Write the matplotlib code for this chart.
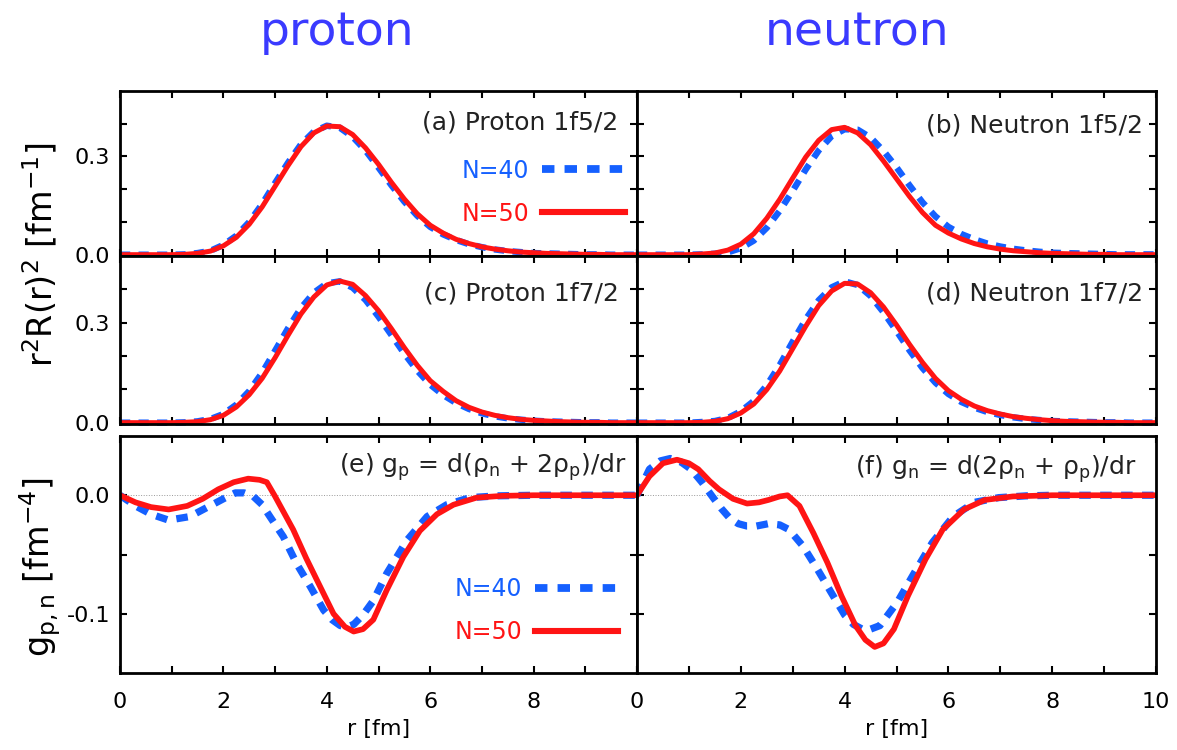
import matplotlib
matplotlib.use('Agg')
import matplotlib.pyplot as plt
from matplotlib.lines import Line2D

plt.rcParams['font.family'] = ['DejaVu Sans']
plt.rcParams['mathtext.fontset'] = 'dejavusans'

# ---------------- data ----------------
R_GRID = [0.0, 0.25, 0.5, 0.75, 1.0, 1.25, 1.5, 1.75, 2.0, 2.25, 2.5, 2.75, 3.0, 3.25,
          3.5, 3.75, 4.0, 4.25, 4.5, 4.75, 5.0, 5.25, 5.5, 5.75, 6.0, 6.25, 6.5, 6.75,
          7.0, 7.25, 7.5, 7.75, 8.0, 8.25, 8.5, 8.75, 9.0, 9.25, 9.5, 9.75, 10.0]

# (a) proton 1f5/2
D_A50 = [0, 0, 0, 0, 0.000, 0.001, 0.004, 0.011, 0.027, 0.053, 0.093, 0.146, 0.209, 0.272,
         0.330, 0.372, 0.393, 0.391, 0.367, 0.326, 0.276, 0.221, 0.170, 0.125, 0.090, 0.066,
         0.047, 0.034, 0.024, 0.017, 0.012, 0.008, 0.006, 0.004, 0.003, 0.002, 0.001, 0.001, 0, 0, 0]
D_A40 = [0, 0, 0, 0, 0.000, 0.001, 0.005, 0.012, 0.030, 0.058, 0.100, 0.155, 0.219, 0.281,
         0.337, 0.376, 0.394, 0.388, 0.360, 0.318, 0.266, 0.212, 0.162, 0.119, 0.085, 0.062,
         0.045, 0.032, 0.023, 0.016, 0.011, 0.008, 0.005, 0.004, 0.003, 0.002, 0.001, 0.001, 0, 0, 0]
# (b) neutron 1f5/2
D_B50 = [0, 0, 0, 0, 0.000, 0.002, 0.005, 0.014, 0.032, 0.064, 0.111, 0.169, 0.234, 0.298,
         0.349, 0.382, 0.389, 0.372, 0.336, 0.286, 0.232, 0.178, 0.129, 0.090, 0.066, 0.048,
         0.034, 0.024, 0.017, 0.012, 0.009, 0.006, 0.004, 0.003, 0.002, 0.001, 0.001, 0, 0, 0, 0]
D_B40 = [0, 0, 0, 0, 0.000, 0.001, 0.003, 0.007, 0.020, 0.043, 0.082, 0.134, 0.195, 0.260,
         0.318, 0.362, 0.383, 0.382, 0.358, 0.317, 0.267, 0.212, 0.160, 0.117, 0.085, 0.063,
         0.047, 0.034, 0.025, 0.018, 0.013, 0.009, 0.006, 0.005, 0.004, 0.003, 0.002, 0.001,
         0.001, 0.001, 0.001]
# (c) proton 1f7/2
D_C50 = [0, 0, 0, 0, 0.000, 0.001, 0.003, 0.009, 0.022, 0.047, 0.084, 0.133, 0.195, 0.262,
         0.326, 0.377, 0.413, 0.425, 0.415, 0.381, 0.336, 0.282, 0.225, 0.172, 0.126, 0.094,
         0.066, 0.046, 0.032, 0.022, 0.015, 0.010, 0.007, 0.005, 0.003, 0.002, 0.001, 0.001, 0, 0, 0]
D_C40 = [0, 0, 0, 0, 0.000, 0.001, 0.004, 0.011, 0.026, 0.054, 0.095, 0.150, 0.216, 0.283,
         0.344, 0.390, 0.418, 0.424, 0.405, 0.368, 0.318, 0.263, 0.207, 0.156, 0.114, 0.083,
         0.059, 0.041, 0.028, 0.019, 0.013, 0.009, 0.006, 0.004, 0.003, 0.002, 0.001, 0.001, 0, 0, 0]
# (d) neutron 1f7/2
D_D50 = [0, 0, 0, 0, 0.000, 0.001, 0.004, 0.012, 0.029, 0.056, 0.099, 0.155, 0.222, 0.289,
         0.351, 0.395, 0.418, 0.416, 0.390, 0.347, 0.293, 0.235, 0.181, 0.133, 0.096, 0.070,
         0.050, 0.036, 0.026, 0.018, 0.013, 0.009, 0.006, 0.004, 0.003, 0.002, 0.001, 0.001, 0, 0, 0]
D_D40 = [0, 0, 0, 0, 0.000, 0.002, 0.005, 0.014, 0.034, 0.065, 0.112, 0.173, 0.243, 0.310,
         0.367, 0.406, 0.424, 0.413, 0.380, 0.331, 0.275, 0.217, 0.164, 0.120, 0.086, 0.062,
         0.045, 0.032, 0.023, 0.016, 0.011, 0.008, 0.005, 0.004, 0.003, 0.002, 0.001, 0.001, 0, 0, 0]

# (e) g_p
R_E50 = [0, 0.3, 0.6, 0.94, 1.3, 1.6, 1.9, 2.2, 2.48, 2.7, 2.84, 3.0, 3.1, 3.35, 3.6, 3.87,
         4.13, 4.35, 4.52, 4.7, 4.9, 5.16, 5.48, 5.8, 6.13, 6.45, 6.9, 7.4, 8.0, 9.0, 10.0]
G_E50 = [0, -0.006, -0.010, -0.012, -0.009, -0.003, 0.005, 0.011, 0.014, 0.013, 0.011, -0.001,
         -0.009, -0.029, -0.053, -0.077, -0.100, -0.111, -0.115, -0.113, -0.105, -0.080, -0.052,
         -0.030, -0.016, -0.008, -0.002, -0.0005, 0, 0, 0]
R_E40 = [0, 0.3, 0.6, 0.94, 1.35, 1.74, 2.0, 2.23, 2.4, 2.58, 2.75, 2.9, 3.16, 3.42, 3.68, 3.94,
         4.1, 4.26, 4.4, 4.52, 4.7, 4.9, 5.16, 5.55, 5.94, 6.32, 6.77, 7.3, 8.0, 9.0, 10.0]
G_E40 = [0, -0.009, -0.016, -0.021, -0.018, -0.009, -0.003, 0.002, 0.002, -0.001, -0.008, -0.018,
         -0.035, -0.058, -0.077, -0.097, -0.105, -0.110, -0.111, -0.109, -0.101, -0.089, -0.066,
         -0.038, -0.018, -0.008, -0.002, -0.0005, 0, 0, 0]
# (f) g_n
R_F50 = [0, 0.24, 0.5, 0.77, 1.0, 1.18, 1.4, 1.58, 1.85, 2.12, 2.35, 2.53, 2.75, 2.9, 3.13, 3.4,
         3.67, 3.94, 4.21, 4.4, 4.58, 4.75, 4.95, 5.22, 5.56, 5.89, 6.3, 6.7, 7.24, 8.0, 9.0, 10.0]
G_F50 = [0, 0.016, 0.027, 0.030, 0.027, 0.022, 0.012, 0.005, -0.003, -0.007, -0.006, -0.004,
         -0.001, 0.000, -0.009, -0.032, -0.057, -0.085, -0.110, -0.122, -0.128, -0.125, -0.113,
         -0.085, -0.054, -0.029, -0.012, -0.004, -0.001, 0, 0, 0]
R_F40 = [0, 0.24, 0.45, 0.64, 0.85, 1.04, 1.25, 1.45, 1.62, 1.78, 1.95, 2.12, 2.3, 2.53, 2.75,
         2.93, 3.2, 3.47, 3.74, 4.0, 4.17, 4.34, 4.5, 4.68, 5.02, 5.35, 5.69, 6.09, 6.5, 6.97,
         7.5, 8.0, 9.0, 10.0]
G_F40 = [0, 0.022, 0.029, 0.031, 0.028, 0.022, 0.011, -0.001, -0.011, -0.019, -0.024, -0.026,
         -0.026, -0.024, -0.025, -0.029, -0.043, -0.062, -0.082, -0.101, -0.109, -0.113, -0.113,
         -0.110, -0.090, -0.065, -0.040, -0.018, -0.006, -0.002, -0.0005, 0, 0, 0]

SERIES_LABELS = ['N=40', 'N=50']
PANEL_TEXT = ['(a) Proton 1f5/2', '(b) Neutron 1f5/2', '(c) Proton 1f7/2', '(d) Neutron 1f7/2',
              '(e) g$_{\\rm p}$ = d(ρ$_{\\rm n}$ + 2ρ$_{\\rm p}$)/dr',
              '(f) g$_{\\rm n}$ = d(2ρ$_{\\rm n}$ + ρ$_{\\rm p}$)/dr']
COL_TITLES = ['proton', 'neutron']

BLUE = '#1560ff'
RED = '#ff1414'
TITLE_BLUE = '#3a3aff'

# ---------------- figure ----------------
W, H = 1177, 750
fig = plt.figure(figsize=(W / 100, H / 100), dpi=100)


def box(l, t, r, b):
    return [l / W, 1 - b / H, (r - l) / W, (b - t) / H]


ax_a = fig.add_axes(box(120, 91, 637, 256))
ax_b = fig.add_axes(box(637, 91, 1156, 256))
ax_c = fig.add_axes(box(120, 256, 637, 424))
ax_d = fig.add_axes(box(637, 256, 1156, 424))
ax_e = fig.add_axes(box(120, 436, 637, 673))
ax_f = fig.add_axes(box(637, 436, 1156, 673))
axes = [ax_a, ax_b, ax_c, ax_d, ax_e, ax_f]

LW_RED = 3.6
LW_BLUE = 4.6
DASH = (1.6, 1.3)


def style(ax):
    ax.set_xlim(0, 10)
    ax.set_xticks(range(0, 11))
    ax.tick_params(direction='in', top=True, right=True, length=5, width=1.5,
                   labelsize=16, pad=7)
    ax.tick_params(axis='x', pad=14)
    for s in ax.spines.values():
        s.set_linewidth(2.0)
        s.set_zorder(5)


density = [(ax_a, D_A40, D_A50), (ax_b, D_B40, D_B50),
           (ax_c, D_C40, D_C50), (ax_d, D_D40, D_D50)]
for ax, d40, d50 in density:
    style(ax)
    ax.plot(R_GRID, d40, color=BLUE, lw=LW_BLUE, dashes=DASH, dash_capstyle='butt',
            clip_on=False, zorder=3)
    ax.plot(R_GRID, d50, color=RED, lw=LW_RED, clip_on=False, zorder=4,
            solid_capstyle='butt')
    ax.set_ylim(-0.004, 0.5)
    ax.set_yticks([0, 0.1, 0.2, 0.3, 0.4])
    ax.tick_params(labelbottom=False)
for ax in (ax_a, ax_c):
    ax.set_yticklabels(['0.0', '', '', '0.3', ''])
for ax in (ax_b, ax_d):
    ax.tick_params(labelleft=False)

gpanels = [(ax_e, R_E40, G_E40, R_E50, G_E50), (ax_f, R_F40, G_F40, R_F50, G_F50)]
for ax, r40, g40, r50, g50 in gpanels:
    style(ax)
    ax.axhline(0, color='#999999', lw=0.7, ls=':', zorder=1)
    ax.plot(r40, g40, color=BLUE, lw=LW_BLUE + 0.6, dashes=DASH, dash_capstyle='butt',
            zorder=3)
    ax.plot(r50, g50, color=RED, lw=LW_RED + 0.5, zorder=4)
    ax.set_ylim(-0.15, 0.05)
    ax.set_yticks([-0.1, -0.05, 0.0])
    ax.set_xlabel('r [fm]', fontsize=16, labelpad=5)
ax_e.set_yticklabels(['-0.1', '', '0.0'])
ax_f.tick_params(labelleft=False)
ax_e.set_xticklabels(['0', '', '2', '', '4', '', '6', '', '8', '', ''])
ax_f.set_xticklabels(['0', '', '2', '', '4', '', '6', '', '8', '', '10'])

# panel labels
text_pos = [(0.963, 0.81), (0.975, 0.79), (0.965, 0.775), (0.975, 0.775), (0.98, 0.87), (0.963, 0.86)]
for ax, txt, (tx, ty) in zip(axes, PANEL_TEXT, text_pos):
    ax.text(tx, ty, txt, transform=ax.transAxes, ha='right', va='center', fontsize=18,
            color='#222222', zorder=6)

# legends
for ax, (lx, ly) in [(ax_a, (0.977, 0.387)), (ax_e, (0.963, 0.262))]:
    h40 = Line2D([], [], color=BLUE, lw=LW_BLUE + 1.0, dashes=DASH, dash_capstyle='butt')
    h50 = Line2D([], [], color=RED, lw=LW_RED + 0.8)
    ax.legend(handles=[h40, h50], labels=SERIES_LABELS, loc='center right',
              bbox_to_anchor=(lx, ly), frameon=False, markerfirst=False,
              handlelength=3.5, handletextpad=0.55, labelspacing=0.8, fontsize=17,
              labelcolor=[BLUE, RED], borderpad=0, borderaxespad=0)

# y labels
fig.text(40 / W, 1 - 255 / H, 'r$^2$R(r)$^2$ [fm$^{-1}$]', rotation=90, ha='center',
         va='center', fontsize=24)
fig.text(40 / W, 1 - 567 / H, 'g$_{\\rm p,n}$ [fm$^{-4}$]', rotation=90, ha='center',
         va='center', fontsize=24)

# column titles
fig.text(337 / W, 1 - 45 / H, COL_TITLES[0], color=TITLE_BLUE, fontsize=34,
         ha='center', va='baseline')
fig.text(857 / W, 1 - 45 / H, COL_TITLES[1], color=TITLE_BLUE, fontsize=34,
         ha='center', va='baseline')

fig.savefig('out.png', dpi=100, facecolor='white')
